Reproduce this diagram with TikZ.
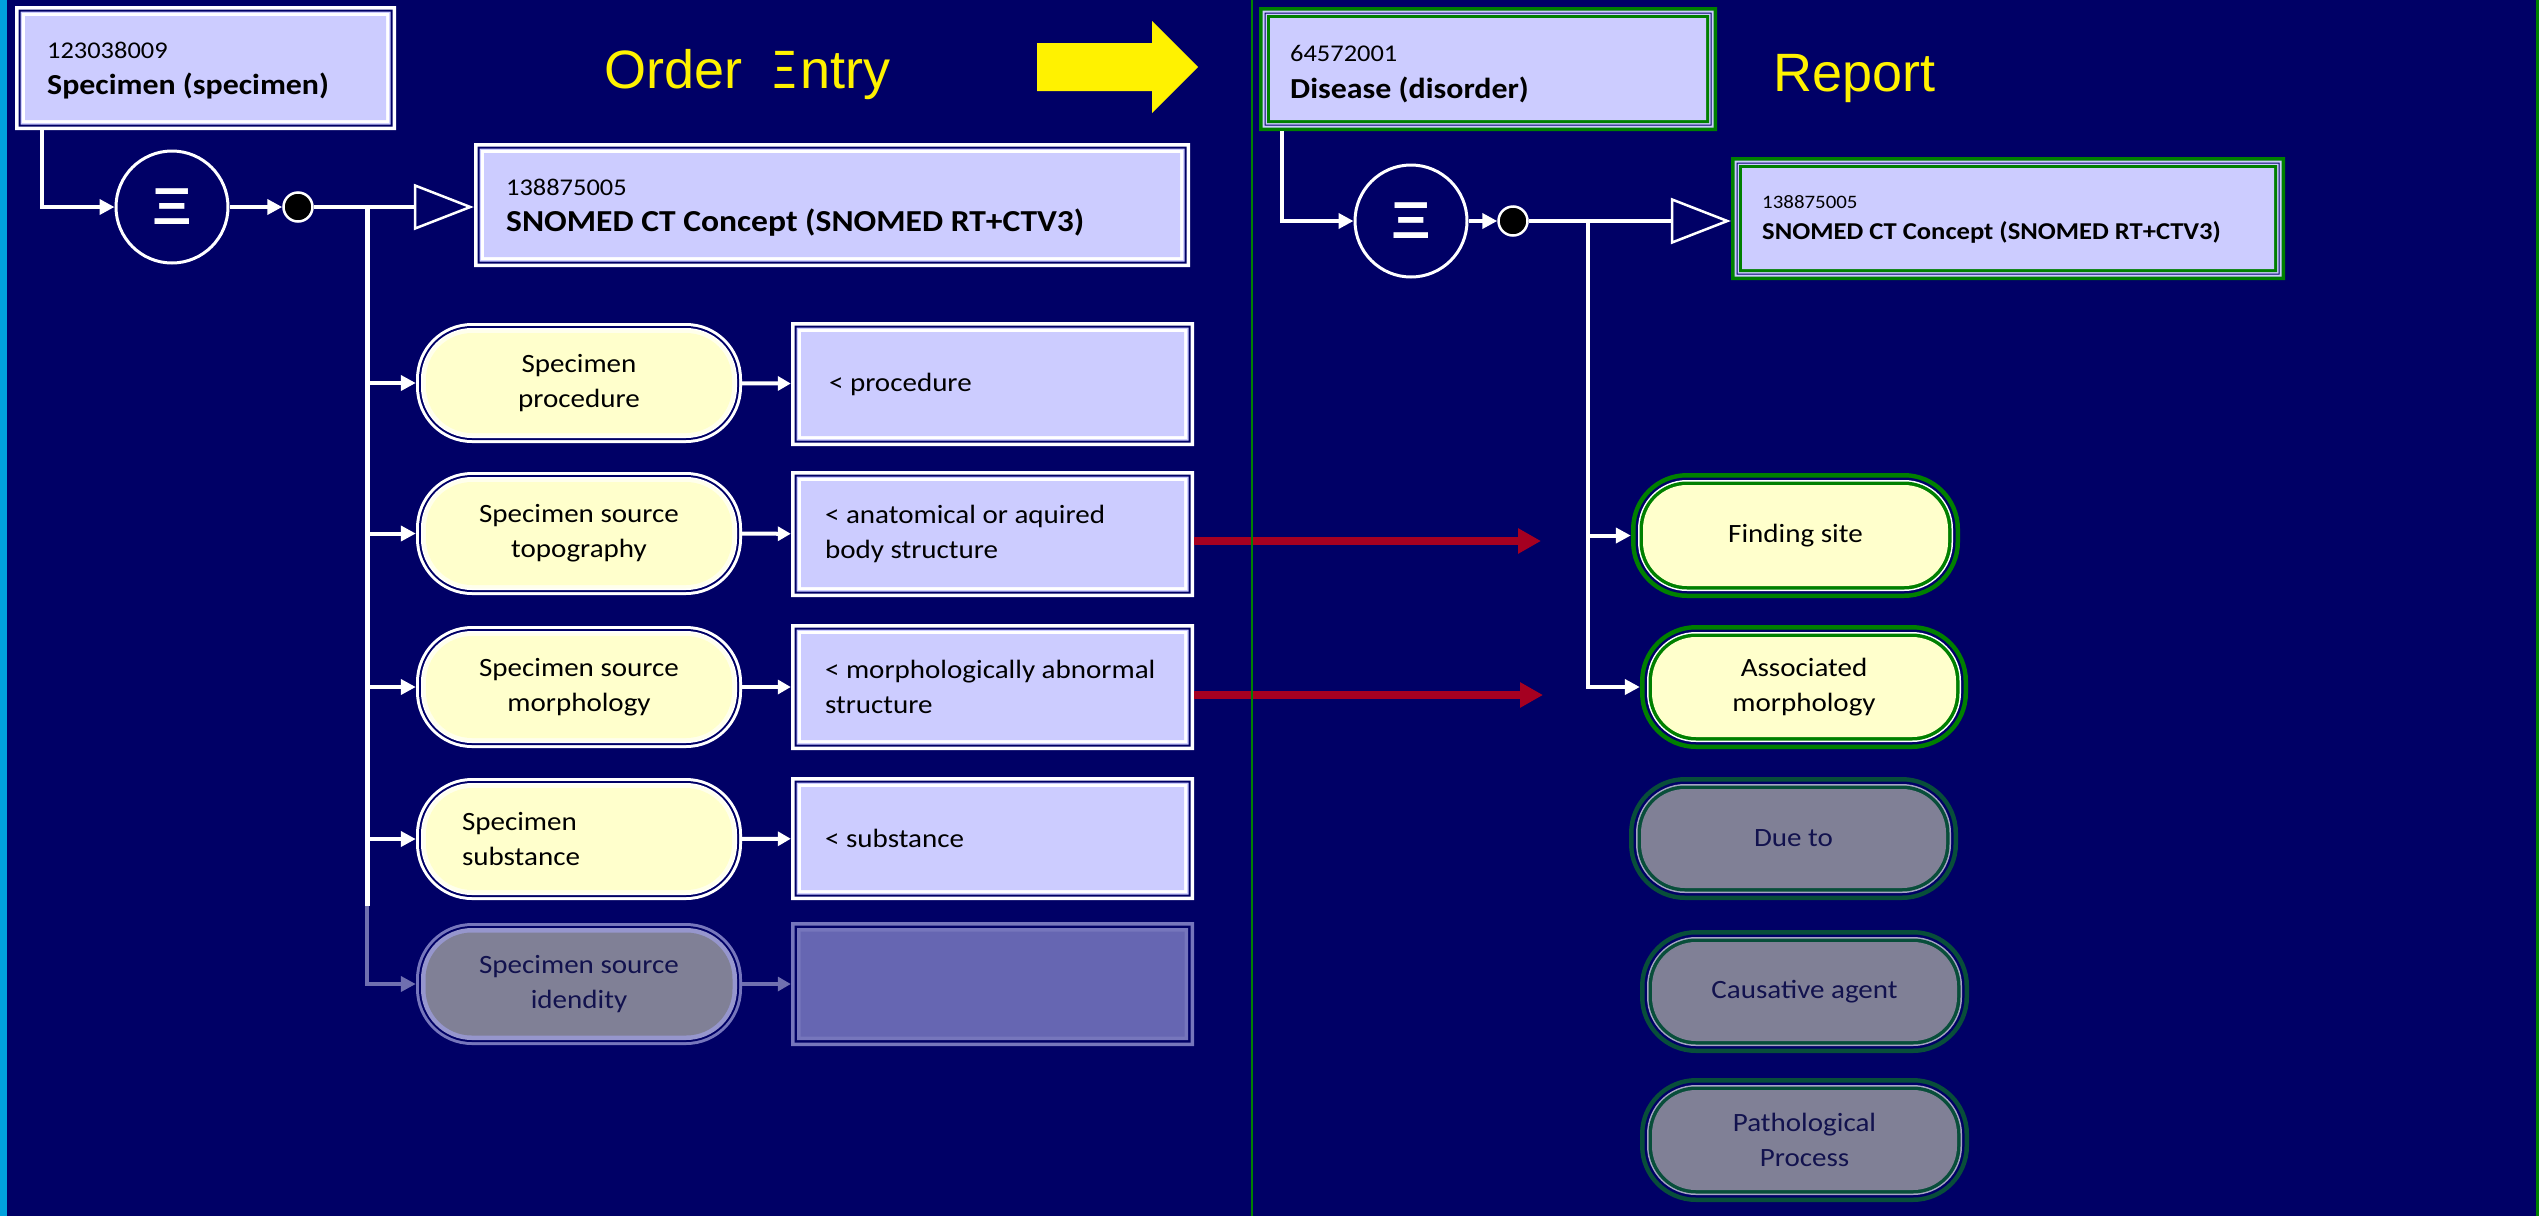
\documentclass[tikz,border=0pt]{standalone}
\usepackage{fontspec}
\usepackage{graphicx}
\usetikzlibrary{arrows.meta,calc}

\newfontfamily\carl[FakeStretch=1.1]{Carlito}
\newfontfamily\arsans{Liberation Sans}

\definecolor{bgc}{RGB}{0,0,102}
\definecolor{lav}{RGB}{204,204,255}
\definecolor{yel}{RGB}{255,255,204}
\definecolor{yell}{RGB}{255,255,236}
\definecolor{grn}{RGB}{0,128,0}
\definecolor{cyanc}{RGB}{0,162,222}
\definecolor{redc}{RGB}{165,0,33}
\definecolor{fdg}{RGB}{8,78,58}
\definecolor{fgl}{RGB}{165,165,195}
\definecolor{fgf}{RGB}{128,128,150}
\definecolor{fol}{RGB}{118,118,188}
\definecolor{fll}{RGB}{150,150,205}
\definecolor{frf}{RGB}{102,102,178}
\definecolor{fline}{RGB}{112,112,176}
\definecolor{ftxt}{RGB}{18,18,78}

\newcommand\txtreg{\carl\fontsize{26.4pt}{35pt}\selectfont}
\newcommand\txtdig{\carl\fontsize{24pt}{28pt}\selectfont}
\newcommand\txtdigs{\carl\fontsize{19pt}{23pt}\selectfont}
\newcommand\txtbold{\carl\bfseries\fontsize{29pt}{34pt}\selectfont}
\newcommand\txtboldl{\carl\bfseries\fontsize{30.5pt}{34pt}\selectfont}
\newcommand\txtbolds{\carl\bfseries\fontsize{24.2pt}{28pt}\selectfont}
\newcommand\titlefont{\arsans\fontsize{54pt}{60pt}\selectfont}
\newcommand\eqglyph{{\arsans\bfseries\fontsize{52pt}{52pt}\selectfont\scalebox{1.18}[1]{Ξ}}}

% nested border rings: colour/inset pairs, outermost first
\def\ringlav{white/0, bgc/3.5, lav/5.5, white/7, lav/10}
\def\ringyel{white/0, bgc/3, white/5, yell/6.5, yel/10}
\def\ringgbox{grn/0, lav/3.5, bgc/5.5, lav/6.5, grn/8, lav/11}
\def\ringgpill{grn/0, bgc/4.5, white/7, grn/8.5, yel/12}
\def\ringfpill{fdg/0, bgc/4.5, fgl/7, fdg/8.5, fgf/12}
\def\ringlfpill{fol/0, bgc/3, fll/5, fgf/9.5}
\def\ringlfrect{fol/0, bgc/3.5, fol/6, frf/9.5}

% #1 x1, #2 y1, #3 x2, #4 y2, #5 corner radius, #6 ring list
\newcommand\rings[6]{%
  \foreach \cc/\dd in #6 {%
    \pgfmathsetmacro\rr{max(#5-\dd,0.01)}%
    \fill[\cc, rounded corners=\rr pt] ({#1+\dd},{#2+\dd}) rectangle ({#3-\dd},{#4-\dd});
  }%
}
% #1 name, #2-#5 box, #6 radius, #7 rings, #8 node options, #9 text
\newcommand\ringnode[9]{%
  \rings{#2}{#3}{#4}{#5}{#6}{#7}%
  \pgfmathsetmacro\nw{#4-#2}%
  \pgfmathsetmacro\nh{#5-#3}%
  \node[inner sep=0pt, minimum width=\nw pt, minimum height=\nh pt, #8] (#1) at ({(#2+#4)/2},{(#3+#5)/2}) {#9};
}

\tikzset{
  pilltext/.style={font=\txtreg, align=center, text=black},
  recttext/.style={font=\txtreg, align=left, text=black, anchor=west, inner sep=0pt},
  boxtext/.style={anchor=base west, inner sep=0pt, text=black},
  eqcirc/.style={circle, draw=white, line width=3pt, fill=bgc, minimum size=112pt, inner sep=0pt, text=white},
  blackdot/.style={circle, fill=black, draw=white, line width=2.5pt, minimum size=29pt, inner sep=0pt},
  conn/.style={draw=white, line width=4pt, -{Triangle[length=15pt,width=15pt]}},
  shortconn/.style={draw=white, line width=4pt, -{Triangle[length=13pt,width=14pt]}},
  trunk/.style={draw=white, line width=5pt},
  gen/.style={draw=white, line width=4pt, -{Triangle[open,length=60pt,width=46pt,line width=2.5pt]}},
  redarr/.style={draw=redc, line width=8pt, -{Triangle[length=23pt,width=24pt]}},
}

\begin{document}
\begin{tikzpicture}[x=1pt,y=-1pt]
\useasboundingbox (0,0) rectangle (2539,1216);
\fill[bgc] (0,0) rectangle (2539,1216);
\fill[cyanc] (0,0) rectangle (7,1216);

% titles and the yellow block arrow
\node[anchor=base west, inner sep=0pt, font=\titlefont, text=yellow] (t-oe) at (604.5,88)
  {Order\hspace{31pt}\scalebox{0.65}[1]{Ξ}\hspace{4pt}ntry};
\node[anchor=base west, inner sep=0pt, font=\titlefont, text=yellow] (t-rep) at (1773,91) {Report};
\fill[yellow] (1037,43) -- (1152,43) -- (1152,21) -- (1198,67) -- (1152,113) -- (1152,91) -- (1037,91) -- cycle;

% ---------- order entry side ----------
\ringnode{spec}{15}{6}{396}{130}{0}{\ringlav}{}{}
\node[boxtext, font=\txtdig] (spec-id) at (47,58) {123038009};
\node[boxtext, font=\txtbold] (spec-nm) at (47,94) {Specimen (specimen)};

\ringnode{snl}{474}{143}{1190}{267}{0}{\ringlav}{}{}
\node[boxtext, font=\txtdig] (snl-id) at (506,195) {138875005};
\node[boxtext, font=\txtboldl] (snl-nm) at (506,231) {SNOMED CT Concept (SNOMED RT+CTV3)};

\node[eqcirc] (eq1) at (172,207) {\eqglyph};
\node[blackdot] (dot1) at (298,207) {};

\ringnode{p1}{416}{323}{742}{443}{56}{\ringyel}{pilltext}{Specimen\\procedure}
\ringnode{p2}{416}{472}{742}{595}{56}{\ringyel}{pilltext}{Specimen source\\topography}
\ringnode{p3}{416}{626}{742}{748}{56}{\ringyel}{pilltext}{Specimen source\\morphology}
\ringnode{p4}{416}{778}{742}{900}{56}{\ringyel}{pilltext, align=left, text width=234pt}{Specimen\\substance}
\ringnode{p5}{416}{923}{742}{1045}{56}{\ringlfpill}{pilltext, text=ftxt}{Specimen source\\idendity}

\ringnode{r1}{791}{322}{1194}{446}{0}{\ringlav}{}{}
\ringnode{r2}{791}{471}{1194}{597}{0}{\ringlav}{}{}
\ringnode{r3}{791}{624}{1194}{750}{0}{\ringlav}{}{}
\ringnode{r4}{791}{777}{1194}{900}{0}{\ringlav}{}{}
\ringnode{r5}{791}{922}{1194}{1046}{0}{\ringlfrect}{}{}
\node[recttext] (r1-t) at ([xshift=38pt]r1.west) {< procedure};
\node[recttext] (r2-t) at ([xshift=34pt]r2.west) {< anatomical or aquired\\body structure};
\node[recttext] (r3-t) at ([xshift=34pt]r3.west) {< morphologically abnormal\\structure};
\node[recttext] (r4-t) at ([xshift=34pt]r4.west) {< substance};

\coordinate (j1) at (367,207);
\coordinate (j1b) at (367,906);
\draw[conn] ([xshift=27.5pt]spec.south west) |- (eq1);
\draw[conn] (eq1) -- (dot1);
\draw[gen] (dot1) -- (dot1 -| snl.west);
\draw[trunk] (j1) -- (j1b);
\foreach \n in {p1,p2,p3,p4} \draw[conn] (j1 |- \n) -- (\n);
\draw[conn, draw=fline] (j1b) |- (p5);
\foreach \n/\m in {p1/r1,p2/r2,p3/r3,p4/r4} \draw[shortconn] (\n) -- (\m);
\draw[shortconn, draw=fline] (p5) -- (r5);

% ---------- report side ----------
\ringnode{dis}{1259}{7}{1717}{131}{0}{\ringgbox}{}{}
\node[boxtext, font=\txtdig] (dis-id) at (1290,61) {64572001};
\node[boxtext, font=\txtbold] (dis-nm) at (1290,98) {Disease (disorder)};

\ringnode{snr}{1731}{157}{2285}{280}{0}{\ringgbox}{}{}
\node[boxtext, font=\txtdigs] (snr-id) at (1762,208) {138875005};
\node[boxtext, font=\txtbolds] (snr-nm) at (1762,239) {SNOMED CT Concept (SNOMED RT+CTV3)};

\node[eqcirc] (eq2) at (1411,221) {\eqglyph};
\node[blackdot] (dot2) at (1513,221) {};

\ringnode{fs}{1631}{473}{1960}{598}{56}{\ringgpill}{pilltext}{Finding site}
\ringnode{am}{1640}{625}{1968}{749}{56}{\ringgpill}{pilltext}{Associated\\morphology}
\ringnode{dt}{1629}{777}{1958}{900}{56}{\ringfpill}{pilltext, text=ftxt}{Due to}
\ringnode{ca}{1640}{930}{1969}{1053}{56}{\ringfpill}{pilltext, text=ftxt}{Causative agent}
\ringnode{pp}{1640}{1078}{1969}{1202}{56}{\ringfpill}{pilltext, text=ftxt}{Pathological\\Process}

\coordinate (j2) at (1588,221);
\draw[conn] ([xshift=23pt]dis.south west) |- (eq2);
\draw[conn] (eq2) -- (dot2);
\draw[gen] (dot2) -- (dot2 -| snr.west);
\draw[conn] (j2) |- (am);
\draw[conn] (j2 |- fs) -- (fs);

% mappings from the order to the report
\coordinate (ra1) at (1541,541);
\coordinate (ra2) at (1543,695);
\draw[redarr] ([yshift=-7pt]r2.east) -- (ra1);
\draw[redarr] ([yshift=-8pt]r3.east) -- (ra2);

% dividers
\draw[grn, line width=2.5pt] (1252,0) -- (1252,1216);
\fill[grn] (2536,0) rectangle (2539,1216);
\end{tikzpicture}
\end{document}
